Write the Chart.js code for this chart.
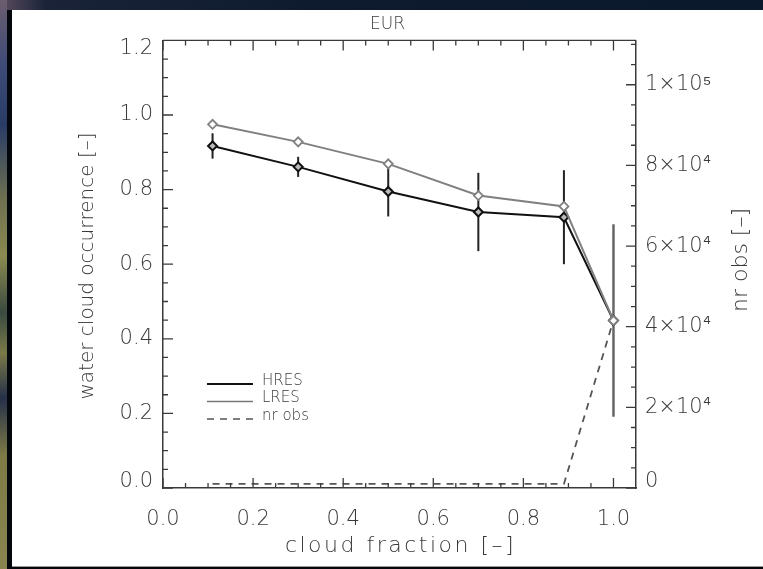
<!DOCTYPE html>
<html>
<head>
<meta charset="utf-8">
<script src="https://cdn.jsdelivr.net/npm/chart.js@4.4.1/dist/chart.umd.min.js"></script>
<style>
  html, body { margin: 0; padding: 0; }
  body { width: 763px; height: 569px; overflow: hidden; background: #04070c; position: relative; }
  #topband { position: absolute; left: 0; top: 0; width: 763px; height: 10px;
    background: linear-gradient(90deg, #5c4d60 0%, #1a2338 6%, #0e1b2e 40%, #0b192c 100%); }
  #edge { position: absolute; left: 0; top: 0; width: 7px; height: 569px;
    background: linear-gradient(180deg, #6b5d6e 0%, #3c4a78 12%, #2a3c66 22%, #6e7050 35%, #8a8a50 45%,
      #3a4a40 55%, #7a7a48 62%, #26304a 70%, #7d7a45 80%, #8a8550 100%); }
  #panel { position: absolute; left: 12px; top: 10px; width: 751px; height: 556px; background: #fff;
    border-bottom: 1px solid #9a9a9a; }
  canvas { display: block; }
</style>
</head>
<body>
<div id="topband"></div>
<div id="edge"></div>
<div id="panel"><canvas id="c" width="751" height="556"></canvas></div>
<script>
// Binned cloud fraction and water cloud occurrence over Europe
const cloudFraction = [0.11, 0.30, 0.50, 0.70, 0.89, 1.00];
const hres          = [0.917, 0.861, 0.795, 0.740, 0.726, 0.449];
const hresErr       = [0.034, 0.027, 0.067, 0.105, 0.126, 0.258];
const lres          = [0.975, 0.928, 0.869, 0.784, 0.755, 0.449];
const nrObs         = [1000, 1000, 1000, 1000, 1000, 41600];

const xTickLabels   = ['0.0', '0.2', '0.4', '0.6', '0.8', '1.0'];
const yTickLabels   = ['0.0', '0.2', '0.4', '0.6', '0.8', '1.0', '1.2'];
const obsTickLabels = ['0', '2×10⁴', '4×10⁴', '6×10⁴', '8×10⁴', '1×10⁵'];

const FONT = '"DejaVu Sans", "Liberation Sans", sans-serif';
const TEXT = '#3a3a3a';
const AXIS = '#3a3a3a';

const pts = (ys) => cloudFraction.map((x, i) => ({ x, y: ys[i] }));
const fixedTicks = (step, n) => (scale) => {
  scale.ticks = Array.from({ length: n }, (_, i) => ({ value: i * step }));
};

// vertical error bars on the HRES series
const errorBars = {
  id: 'errorBars',
  beforeDatasetsDraw(chart) {
    const { ctx, scales: { x, y } } = chart;
    ctx.save();
    cloudFraction.forEach((cf, i) => {
      const px = x.getPixelForValue(cf);
      const last = i === cloudFraction.length - 1;
      ctx.strokeStyle = last ? '#666' : '#222';
      ctx.lineWidth = last ? 2.5 : 2;
      ctx.beginPath();
      ctx.moveTo(px, y.getPixelForValue(hres[i] + hresErr[i]));
      ctx.lineTo(px, y.getPixelForValue(hres[i] - hresErr[i]));
      ctx.stroke();
    });
    ctx.restore();
  }
};

// keep the end labels of the vertical axes inside the frame
const endLabels = {
  id: 'endLabels',
  beforeDraw(chart) {
    const shift = (scale, first, last) => {
      const items = scale.getLabelItems(chart.chartArea);
      if (!items.length) return;
      const a = items[0].options.translation;
      items[0].options.translation = [a[0], a[1] + first];
      const b = items[items.length - 1].options.translation;
      items[items.length - 1].options.translation = [b[0], b[1] + last];
    };
    shift(chart.scales.y, -6, 8);
    shift(chart.scales.y1, -6, 0);
  }
};

// box frame with inward-pointing major and minor ticks
const frameTicks = {
  id: 'frameTicks',
  afterDatasetsDraw(chart) {
    const { ctx, chartArea: a, scales: { x, y, y1 } } = chart;
    ctx.save();
    ctx.strokeStyle = AXIS;
    ctx.lineWidth = 1.3;
    ctx.beginPath();
    ctx.moveTo(a.left, a.top); ctx.lineTo(a.right, a.top);
    for (let i = 0; i <= 20; i++) {
      const px = x.getPixelForValue(i * 0.05);
      const len = i % 4 === 0 ? 10 : 5;
      ctx.moveTo(px, a.bottom); ctx.lineTo(px, a.bottom - len);
      ctx.moveTo(px, a.top); ctx.lineTo(px, a.top + len);
    }
    for (let i = 0; i <= 24; i++) {
      const py = y.getPixelForValue(i * 0.05);
      const len = i % 4 === 0 ? 10 : 5;
      ctx.moveTo(a.left, py); ctx.lineTo(a.left + len, py);
    }
    for (let i = 0; i <= 22; i++) {
      const py = y1.getPixelForValue(i * 5000);
      const len = i % 4 === 0 ? 10 : 5;
      ctx.moveTo(a.right, py); ctx.lineTo(a.right - len, py);
    }
    ctx.stroke();
    ctx.restore();
  }
};

// axis titles and the in-plot legend
const annotations = {
  id: 'annotations',
  afterDraw(chart) {
    const { ctx, chartArea: a } = chart;
    ctx.save();
    ctx.fillStyle = TEXT;
    ctx.textAlign = 'center';
    ctx.textBaseline = 'middle';

    ctx.font = '300 22px ' + FONT;
    ctx.letterSpacing = '2.5px';
    ctx.fillText('cloud fraction [–]', (a.left + a.right) / 2 + 1, 536);
    ctx.letterSpacing = '0px';

    ctx.font = '300 20px ' + FONT;
    ctx.save();
    ctx.translate(76, 256);
    ctx.rotate(-Math.PI / 2);
    ctx.fillText('water cloud occurrence [–]', 0, 0);
    ctx.restore();

    ctx.font = '300 22px ' + FONT;
    ctx.save();
    ctx.translate(729, 250);
    ctx.rotate(-Math.PI / 2);
    ctx.fillText('nr obs [–]', 0, 0);
    ctx.restore();

    const items = [
      { label: 'HRES',   color: '#111', width: 2,   dash: [] },
      { label: 'LRES',   color: '#777', width: 1.5, dash: [] },
      { label: 'nr obs', color: '#555', width: 1.5, dash: [7, 6] }
    ];
    ctx.font = '300 15px ' + FONT;
    ctx.textAlign = 'left';
    items.forEach((it, i) => {
      const ly = 371 + i * 17.5;
      ctx.strokeStyle = it.color;
      ctx.lineWidth = it.width;
      ctx.setLineDash(it.dash);
      ctx.beginPath();
      ctx.moveTo(195, ly + 3); ctx.lineTo(241, ly + 3);
      ctx.stroke();
      ctx.fillText(it.label, 250, ly);
    });
    ctx.restore();
  }
};

const tickFont = { family: FONT, size: 21, weight: '300' };

new Chart(document.getElementById('c'), {
  type: 'line',
  data: {
    datasets: [
      {
        label: 'LRES', data: pts(lres), yAxisID: 'y', order: 1,
        borderColor: '#808080', borderWidth: 2,
        pointStyle: 'rectRot', pointRadius: 4.5, pointBorderWidth: 1.8,
        pointBorderColor: '#808080', pointBackgroundColor: '#fff'
      },
      {
        label: 'HRES', data: pts(hres), yAxisID: 'y', order: 2,
        borderColor: '#111', borderWidth: 2,
        pointStyle: 'rectRot', pointRadius: 4.5, pointBorderWidth: 2,
        pointBorderColor: '#111', pointBackgroundColor: '#bbb'
      },
      {
        label: 'nr obs', data: pts(nrObs), yAxisID: 'y1', order: 3,
        borderColor: '#555', borderWidth: 1.8, borderDash: [7, 6],
        pointRadius: 0
      }
    ]
  },
  options: {
    responsive: false,
    devicePixelRatio: 1,
    animation: false,
    events: [],
    layout: { padding: 0 },
    elements: { line: { tension: 0 } },
    plugins: {
      legend: { display: false },
      tooltip: { enabled: false },
      title: {
        display: true, text: 'EUR', color: TEXT,
        font: { family: FONT, size: 17, weight: '300' },
        padding: { top: 4, bottom: 6 }
      }
    },
    scales: {
      x: {
        type: 'linear', min: 0, max: 1.05, bounds: 'data',
        grid: { display: false, drawTicks: false },
        border: { display: true, color: AXIS, width: 1.5 },
        ticks: {
          autoSkip: false, maxRotation: 0, padding: 19, color: TEXT, font: tickFont,
          callback: (v) => xTickLabels[Math.round(v / 0.2)] ?? ''
        },
        afterBuildTicks: fixedTicks(0.2, xTickLabels.length),
        afterFit: (s) => { s.height = 78; }
      },
      y: {
        type: 'linear', position: 'left', min: 0, max: 1.2, bounds: 'data',
        grid: { display: false, drawTicks: false },
        border: { display: true, color: AXIS, width: 1.5 },
        ticks: {
          autoSkip: false, padding: 10, color: TEXT, font: tickFont,
          callback: (v) => yTickLabels[Math.round(v / 0.2)] ?? ''
        },
        afterBuildTicks: fixedTicks(0.2, yTickLabels.length),
        afterFit: (s) => { s.width = 151; }
      },
      y1: {
        type: 'linear', position: 'right', min: 0, max: 111000, bounds: 'data',
        grid: { display: false, drawTicks: false },
        border: { display: true, color: AXIS, width: 1.5 },
        ticks: {
          autoSkip: false, padding: 9, color: TEXT, font: tickFont,
          callback: (v) => obsTickLabels[Math.round(v / 20000)] ?? ''
        },
        afterBuildTicks: fixedTicks(20000, obsTickLabels.length),
        afterFit: (s) => { s.width = 127; }
      }
    }
  },
  plugins: [errorBars, endLabels, frameTicks, annotations]
});
</script>
</body>
</html>
